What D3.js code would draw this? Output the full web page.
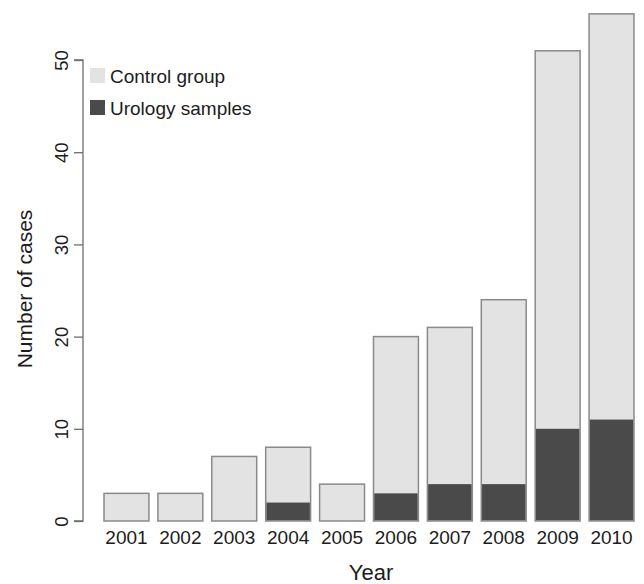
<!DOCTYPE html>
<html>
<head>
<meta charset="utf-8">
<script src="https://cdn.jsdelivr.net/npm/d3@7"></script>
<style>
  body { margin: 0; background: #fff; }
  svg text { font-family: "Liberation Sans", Arial, Helvetica, sans-serif; fill: #1c1c1c; }
</style>
</head>
<body>
<svg width="644" height="584"></svg>
<script>
const years = ["2001", "2002", "2003", "2004", "2005", "2006", "2007", "2008", "2009", "2010"];
const totalCases = [3, 3, 7, 8, 4, 20, 21, 24, 51, 55];
const urologyCases = [0, 0, 0, 2, 0, 3, 4, 4, 10, 11];
const yTicks = [0, 10, 20, 30, 40, 50];
const legendLabels = ["Control group", "Urology samples"];

const lightFill = "#e3e3e3";
const darkFill = "#4a4a4a";
const barStroke = "#8a8a8a";
const axisColor = "#6e6e6e";

const svg = d3.select("svg");

const x = d3.scaleBand()
    .domain(years)
    .range([104, 634])
    .paddingInner(9 / 54)
    .paddingOuter(0);

const y = d3.scaleLinear()
    .domain([0, 50])
    .range([521, 60]);

// bars: full total in light grey, urology part on top in dark grey
const bars = svg.append("g");
years.forEach((yr, i) => {
    bars.append("rect")
        .attr("x", x(yr))
        .attr("y", y(totalCases[i]))
        .attr("width", x.bandwidth())
        .attr("height", y(0) - y(totalCases[i]))
        .attr("fill", lightFill)
        .attr("stroke", barStroke)
        .attr("stroke-width", 1.5);
    if (urologyCases[i] > 0) {
        bars.append("rect")
            .attr("x", x(yr) + 0.75)
            .attr("y", y(urologyCases[i]))
            .attr("width", x.bandwidth() - 1.5)
            .attr("height", y(0) - y(urologyCases[i]) - 0.75)
            .attr("fill", darkFill);
    }
});

// y axis
const yAxis = svg.append("g")
    .attr("transform", "translate(83,0)")
    .call(d3.axisLeft(y).tickValues(yTicks).tickSize(9).tickPadding(0).tickFormat(d3.format("d")));
yAxis.select(".domain").attr("stroke", axisColor).attr("stroke-width", 1.3).attr("d", `M-9,${y(0)}H0V${y(50)}H-9`);
yAxis.selectAll(".tick line").attr("stroke", axisColor).attr("stroke-width", 1.3);
yAxis.selectAll(".tick text")
    .attr("font-size", 18.5)
    .attr("text-anchor", "middle")
    .attr("x", 0)
    .attr("dy", 0)
    .attr("transform", "translate(-15,0) rotate(-90)")
    .attr("style", "font-family: 'Liberation Sans', Arial, sans-serif; fill: #1c1c1c");

// x labels
svg.append("g").selectAll("text")
    .data(years)
    .join("text")
    .attr("x", d => x(d) + x.bandwidth() / 2)
    .attr("y", 544)
    .attr("text-anchor", "middle")
    .attr("font-size", 19)
    .text(d => d);

// axis titles
svg.append("text")
    .attr("x", 371)
    .attr("y", 580)
    .attr("text-anchor", "middle")
    .attr("font-size", 22)
    .text("Year");

svg.append("text")
    .attr("transform", "translate(32,289) rotate(-90)")
    .attr("text-anchor", "middle")
    .attr("font-size", 21)
    .text("Number of cases");

// legend
const legend = svg.append("g");
legendLabels.forEach((lab, i) => {
    legend.append("rect")
        .attr("x", 90)
        .attr("y", 68 + i * 32)
        .attr("width", 15)
        .attr("height", 15)
        .attr("fill", i === 0 ? lightFill : darkFill);
    legend.append("text")
        .attr("x", 110)
        .attr("y", 82.5 + i * 32)
        .attr("font-size", 19)
        .text(lab);
});
</script>
</body>
</html>
